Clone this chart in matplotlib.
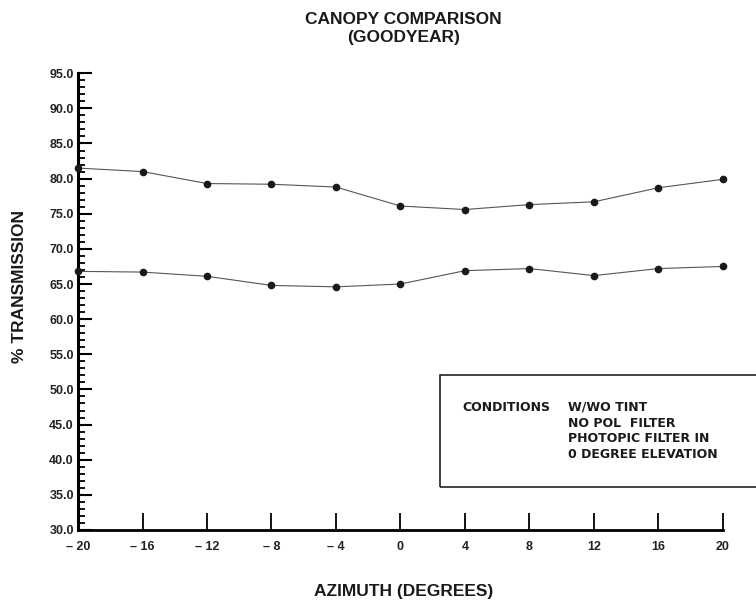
import matplotlib
matplotlib.use('Agg')
import matplotlib.pyplot as plt
from matplotlib.patches import Rectangle
from matplotlib.ticker import MultipleLocator, FixedLocator, FixedFormatter

plt.rcParams['font.family'] = ['Liberation Sans Narrow', 'Liberation Sans', 'DejaVu Sans']

#%% data
azimuth = [-20, -16, -12, -8, -4, 0, 4, 8, 12, 16, 20]
upper = [81.5, 81.0, 79.3, 79.2, 78.8, 76.1, 75.6, 76.3, 76.7, 78.7, 79.9]
lower = [66.8, 66.7, 66.1, 64.8, 64.6, 65.0, 66.9, 67.2, 66.2, 67.2, 67.5]

x_ticks = [-20, -16, -12, -8, -4, 0, 4, 8, 12, 16, 20]
x_labels = ['\u2013 20', '\u2013 16', '\u2013 12', '\u2013 8', '\u2013 4', '0', '4', '8', '12', '16', '20']
y_ticks = [30, 35, 40, 45, 50, 55, 60, 65, 70, 75, 80, 85, 90, 95]
y_labels = ['%.1f' % v for v in y_ticks]

cond_head = 'CONDITIONS'
cond_lines = ['W/WO TINT', 'NO POL  FILTER', 'PHOTOPIC FILTER IN', '0 DEGREE ELEVATION']

#%% figure
fig = plt.figure(figsize=(7.56, 6.05), dpi=100)
ax = fig.add_axes([0.1032, 0.124, 0.853, 0.755])

for series in (upper, lower):
    ax.plot(azimuth, series, color='#555555', lw=0.8, marker='o', ms=4.5,
            mfc='#1a1a1a', mec='#1a1a1a', clip_on=False, zorder=3)

ax.set_xlim(-20, 20)
ax.set_ylim(30, 95)

for s in ('top', 'right'):
    ax.spines[s].set_visible(False)
ax.spines['left'].set_linewidth(2.2)
ax.spines['bottom'].set_linewidth(2.0)

ax.xaxis.set_major_locator(FixedLocator(x_ticks))
ax.xaxis.set_major_formatter(FixedFormatter(x_labels))
ax.yaxis.set_major_locator(FixedLocator(y_ticks))
ax.yaxis.set_major_formatter(FixedFormatter(y_labels))
ax.yaxis.set_minor_locator(MultipleLocator(1))

ax.tick_params(axis='x', which='major', direction='in', length=12, width=1.3, pad=8)
ax.tick_params(axis='y', which='major', direction='in', length=10, width=1.5, pad=3)
ax.tick_params(axis='y', which='minor', direction='in', length=5, width=1.3)
for lab in ax.get_xticklabels() + ax.get_yticklabels():
    lab.set_fontsize(9)
    lab.set_fontweight('bold')
    lab.set_color('#222222')

fig.text(0.534, 0.953, 'CANOPY COMPARISON\n(GOODYEAR)', ha='center', va='center',
         fontsize=12.5, fontweight='bold', color='#1a1a1a', linespacing=1.3)
fig.text(0.026, 0.526, '% TRANSMISSION', rotation=90, ha='center', va='center',
         fontsize=12.5, fontweight='bold', color='#1a1a1a')
fig.text(0.534, 0.022, 'AZIMUTH (DEGREES)', ha='center', va='center',
         fontsize=12.5, fontweight='bold', color='#1a1a1a')

#%% conditions box
box_font = dict(fontsize=9, fontweight='bold', family=['DejaVu Sans'], color='#1a1a1a')
fig.patches.append(Rectangle((0.582, 0.195), 0.45, 0.185, transform=fig.transFigure,
                             fill=False, edgecolor='#222222', lw=1.2))
fig.text(0.612, 0.327, cond_head, ha='left', va='center', **box_font)
for k, line in enumerate(cond_lines):
    fig.text(0.751, 0.327 - k * 0.0262, line, ha='left', va='center', **box_font)

fig.savefig('out.png', dpi=100)
